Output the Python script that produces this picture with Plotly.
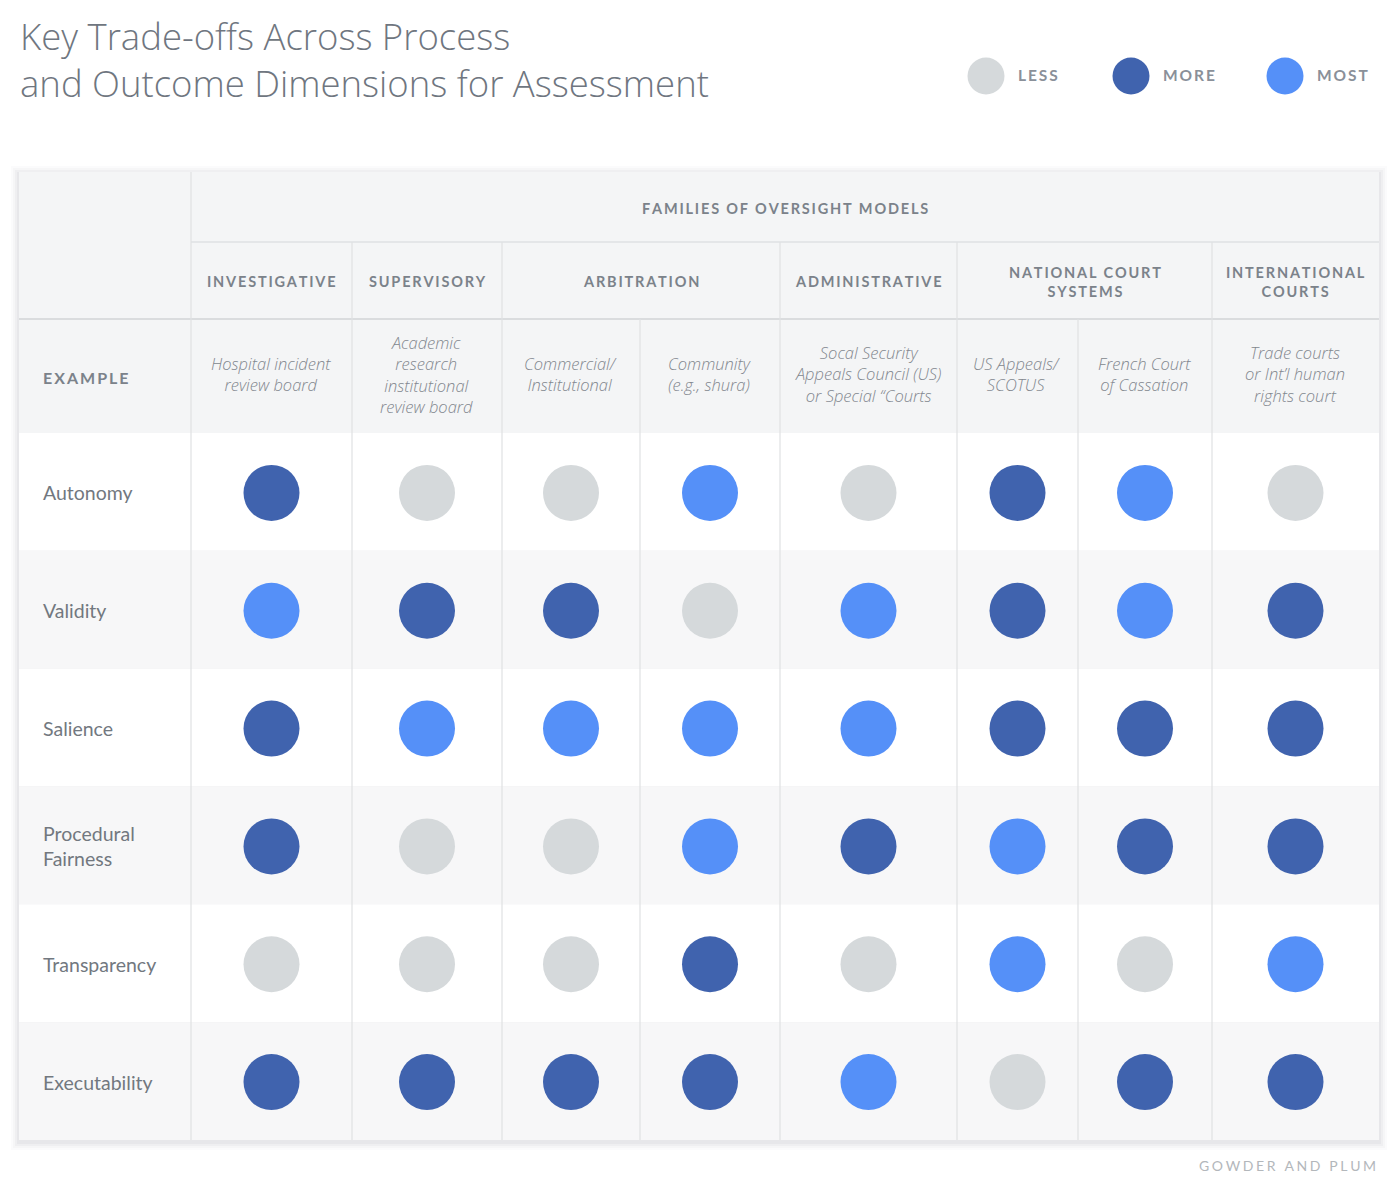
import plotly.graph_objects as go

# table content
families = ["INVESTIGATIVE", "SUPERVISORY", "ARBITRATION", "ADMINISTRATIVE",
            "NATIONAL COURT<br>SYSTEMS", "INTERNATIONAL<br>COURTS"]
family_span = [1, 1, 2, 1, 2, 1]   # how many example columns each family covers
examples = [
    "Hospital incident<br>review board",
    "Academic<br>research<br>institutional<br>review board",
    "Commercial/<br>Institutional",
    "Community<br>(e.g., shura)",
    "Socal Security<br>Appeals Council (US)<br>or Special “Courts",
    "US Appeals/<br>SCOTUS",
    "French Court<br>of Cassation",
    "Trade courts<br>or Int’l human<br>rights court",
]
dimensions = ["Autonomy", "Validity", "Salience", "Procedural<br>Fairness",
              "Transparency", "Executability"]
levels = ["LESS", "MORE", "MOST"]
ratings = [
    ["MORE", "LESS", "LESS", "MOST", "LESS", "MORE", "MOST", "LESS"],
    ["MOST", "MORE", "MORE", "LESS", "MOST", "MORE", "MOST", "MORE"],
    ["MORE", "MOST", "MOST", "MOST", "MOST", "MORE", "MORE", "MORE"],
    ["MORE", "LESS", "LESS", "MOST", "MORE", "MOST", "MORE", "MORE"],
    ["LESS", "LESS", "LESS", "MORE", "LESS", "MOST", "LESS", "MOST"],
    ["MORE", "MORE", "MORE", "MORE", "MOST", "LESS", "MORE", "MORE"],
]
title = "Key Trade-offs Across Process<br>and Outcome Dimensions for Assessment"

level_colors = {"LESS": "#d5d9db", "MORE": "#4063ae", "MOST": "#5590f8"}

# geometry (page pixels)
W, H = 1400, 1196
OFF = 8  # page body margin
col_edges = [19, 191, 352, 502, 640, 780, 957, 1078, 1212, 1379]
row_top, fam_bottom, head_bottom, ex_bottom, table_bottom = 172, 242, 319, 433, 1140
row_h = (table_bottom - ex_bottom) / len(dimensions)

header_bg = "#f4f5f6"
stripe_bg = "#f7f7f8"
line_col = "#dfe1e3"
head_txt = "#7b828a"


def spaced(s, sep="\u2009"):
    # fake letter spacing
    out = []
    for part in s.split("<br>"):
        out.append(sep.join(list(part)))
    return "<br>".join(out)


fig = go.Figure()
shapes = []
annotations = []

# soft shadow round the table
for i, op in enumerate([0.04, 0.05, 0.07, 0.09]):
    d = 8 - i * 2
    shapes.append(dict(type="rect", x0=col_edges[0] - d, x1=col_edges[-1] + d,
                       y0=row_top - d + 2, y1=table_bottom + d + 2,
                       fillcolor="#9aa0a6", opacity=op, line_width=0, layer="below"))

# header background
shapes.append(dict(type="rect", x0=col_edges[0], x1=col_edges[-1], y0=row_top, y1=ex_bottom,
                   fillcolor=header_bg, line_width=0, layer="below"))
# data rows, alternating
for r in range(len(dimensions)):
    y0 = ex_bottom + r * row_h
    shapes.append(dict(type="rect", x0=col_edges[0], x1=col_edges[-1], y0=y0, y1=y0 + row_h,
                       fillcolor="#ffffff" if r % 2 == 0 else stripe_bg,
                       line_width=0, layer="below"))

# horizontal rules
shapes.append(dict(type="line", x0=col_edges[1], x1=col_edges[-1], y0=fam_bottom, y1=fam_bottom,
                   line=dict(color=line_col, width=1.5), layer="below"))
shapes.append(dict(type="line", x0=col_edges[0], x1=col_edges[-1], y0=head_bottom, y1=head_bottom,
                   line=dict(color="#dadcde", width=2), layer="below"))

# vertical rules
fam_edges = [1]
for s in family_span:
    fam_edges.append(fam_edges[-1] + s)
for k in range(1, len(col_edges) - 1):
    if k == 1:
        top = row_top
    elif k in fam_edges:
        top = fam_bottom
    else:
        top = head_bottom
    shapes.append(dict(type="line", x0=col_edges[k], x1=col_edges[k], y0=top, y1=table_bottom,
                       line=dict(color=line_col, width=1.2), layer="below"))

# header texts
annotations.append(dict(x=(col_edges[1] + col_edges[-1]) / 2, y=(row_top + fam_bottom) / 2 + 1,
                        text=spaced("FAMILIES OF OVERSIGHT MODELS"), showarrow=False,
                        font=dict(family="Lato", size=14.5, color=head_txt, weight=700)))
for f, name in enumerate(families):
    x0 = col_edges[fam_edges[f]]
    x1 = col_edges[fam_edges[f + 1]]
    annotations.append(dict(x=(x0 + x1) / 2, y=(fam_bottom + head_bottom) / 2 + 1,
                            text=spaced(name), showarrow=False,
                            font=dict(family="Lato", size=14.5, color=head_txt, weight=700)))

annotations.append(dict(x=41, y=(head_bottom + ex_bottom) / 2 + 1, text=spaced("EXAMPLE"),
                        showarrow=False, xanchor="left",
                        font=dict(family="Lato", size=16, color=head_txt, weight=700)))
for c, ex in enumerate(examples):
    annotations.append(dict(x=(col_edges[c + 1] + col_edges[c + 2]) / 2 - 1,
                            y=(head_bottom + ex_bottom) / 2 - 2, text=ex, showarrow=False,
                            font=dict(family="Open Sans", size=16.5, color="#82878e",
                                      style="italic", weight=300)))

# row labels
for r, dim in enumerate(dimensions):
    annotations.append(dict(x=41, y=ex_bottom + (r + 0.5) * row_h + 1, text=dim, showarrow=False,
                            xanchor="left", align="left",
                            font=dict(family="Lato", size=19.5, color="#72787f")))

# dots
xs, ys, cs = [], [], []
for r in range(len(dimensions)):
    for c in range(len(examples)):
        xs.append((col_edges[c + 1] + col_edges[c + 2]) / 2)
        ys.append(ex_bottom + (r + 0.5) * row_h + 1)
        cs.append(level_colors[ratings[r][c]])
fig.add_trace(go.Scatter(x=xs, y=ys, mode="markers", hoverinfo="skip",
                         marker=dict(size=56, color=cs, line_width=0)))

# legend
leg_x = [986, 1131, 1285]
fig.add_trace(go.Scatter(x=leg_x, y=[76] * 3, mode="markers", hoverinfo="skip",
                         marker=dict(size=37, color=[level_colors[l] for l in levels], line_width=0)))
for lx, lv in zip(leg_x, levels):
    annotations.append(dict(x=lx + 30, y=75, text=spaced(lv), showarrow=False, xanchor="left",
                            font=dict(family="Lato", size=15.5, color="#8a9099", weight=700)))

# title
annotations.append(dict(x=18, y=59.5, text=title, showarrow=False,
                        xanchor="left", yanchor="middle", align="left",
                        font=dict(family="Open Sans", size=36.5, color="#6f7680", weight=300)))

# credit
annotations.append(dict(x=1378, y=1165, text=spaced("GOWDER AND PLUM", "\u2009\u200a"), showarrow=False,
                        xanchor="right",
                        font=dict(family="Lato", size=14, color="#b3b7bb", weight=400)))

fig.update_layout(
    width=W, height=H,
    margin=dict(l=0, r=0, t=0, b=0),
    paper_bgcolor="white", plot_bgcolor="white",
    showlegend=False,
    xaxis=dict(range=[OFF, W + OFF], visible=False, fixedrange=True),
    yaxis=dict(range=[H + OFF, OFF], visible=False, fixedrange=True),
    shapes=shapes, annotations=annotations,
)

fig.write_html("out.html")
